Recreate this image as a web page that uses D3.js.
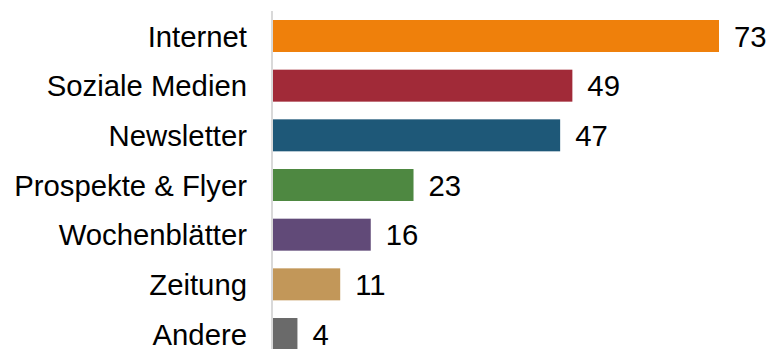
<!DOCTYPE html>
<html>
<head>
<meta charset="utf-8">
<script src="https://cdn.jsdelivr.net/npm/d3@7/dist/d3.min.js"></script>
<style>
  html, body { margin: 0; padding: 0; background: #fff; }
  svg { display: block; }
  text { font-family: "Liberation Sans", Arial, sans-serif; fill: #000; }
</style>
</head>
<body>
<svg id="chart" width="771" height="349"></svg>
<script>
// Kanäle und Anteile
const categories = ["Internet", "Soziale Medien", "Newsletter", "Prospekte & Flyer", "Wochenblätter", "Zeitung", "Andere"];
const values = [73, 49, 47, 23, 16, 11, 4];
const colors = ["#EF800B", "#A12A38", "#1E5878", "#4E8841", "#614A78", "#C29759", "#6A6A6A"];

const width = 771, height = 349;
const left = 273;

const svg = d3.select("#chart");

const x = d3.scaleLinear().domain([0, 73]).range([left, 719]);
const y = d3.scaleBand().domain(categories).range([20, 350]).paddingInner(0.356).paddingOuter(0);

// Balken
svg.selectAll("rect.bar")
  .data(categories)
  .join("rect")
  .attr("class", "bar")
  .attr("x", x(0))
  .attr("y", d => y(d))
  .attr("width", (d, i) => x(values[i]) - x(0))
  .attr("height", y.bandwidth())
  .attr("fill", (d, i) => colors[i]);

// Kategorie-Achse
const axis = svg.append("g")
  .attr("transform", `translate(${left - 1},0)`)
  .call(d3.axisLeft(y).tickSize(0).tickPadding(25));
axis.select(".domain").attr("d", `M0,11V${height}`).attr("stroke", "#d9d9d9").attr("stroke-width", 2);
axis.selectAll(".tick text")
  .attr("font-size", 29.3)
  .attr("font-family", "'Liberation Sans', Arial, sans-serif")
  .attr("fill", "#000")
  .attr("dy", "0.36em");

// Wertebeschriftungen
svg.selectAll("text.val")
  .data(categories)
  .join("text")
  .attr("class", "val")
  .attr("x", (d, i) => x(values[i]) + 15)
  .attr("y", d => y(d) + y.bandwidth() / 2)
  .attr("dy", "0.36em")
  .attr("font-size", 29.3)
  .text((d, i) => values[i]);
</script>
</body>
</html>
